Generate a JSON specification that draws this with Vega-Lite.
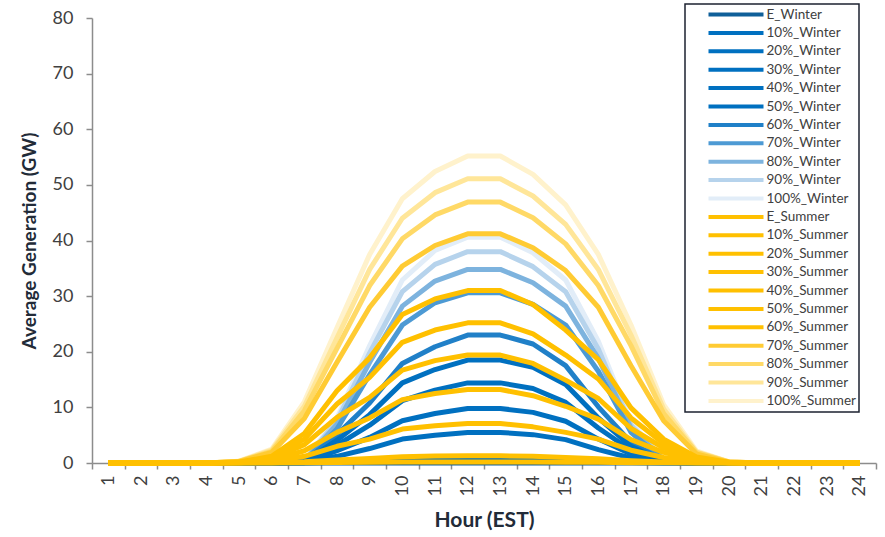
{
"$schema": "https://vega.github.io/schema/vega-lite/v6.json",
"width": 784,
"height": 445,
"autosize": {"type": "none"},
"padding": {"left": 92, "top": 18, "right": 9, "bottom": 74},
"config": {"font": "Lato", "view": {"stroke": null}, "axis": {"grid": false}, "legend": {"strokeWidth": 1.5}},
"data": {"values": [
{"series":"100%_Winter","hour":1,"value":0},{"series":"100%_Winter","hour":2,"value":0},{"series":"100%_Winter","hour":3,"value":0},{"series":"100%_Winter","hour":4,"value":0},{"series":"100%_Winter","hour":5,"value":0},{"series":"100%_Winter","hour":6,"value":0},{"series":"100%_Winter","hour":7,"value":0.41},{"series":"100%_Winter","hour":8,"value":8.1},{"series":"100%_Winter","hour":9,"value":21.1},{"series":"100%_Winter","hour":10,"value":32.9},{"series":"100%_Winter","hour":11,"value":38.2},{"series":"100%_Winter","hour":12,"value":40.6},{"series":"100%_Winter","hour":13,"value":40.6},{"series":"100%_Winter","hour":14,"value":37.8},{"series":"100%_Winter","hour":15,"value":32.9},{"series":"100%_Winter","hour":16,"value":21.9},{"series":"100%_Winter","hour":17,"value":7.3},{"series":"100%_Winter","hour":18,"value":0.61},{"series":"100%_Winter","hour":19,"value":0},{"series":"100%_Winter","hour":20,"value":0},{"series":"100%_Winter","hour":21,"value":0},{"series":"100%_Winter","hour":22,"value":0},{"series":"100%_Winter","hour":23,"value":0},{"series":"100%_Winter","hour":24,"value":0},
{"series":"90%_Winter","hour":1,"value":0},{"series":"90%_Winter","hour":2,"value":0},{"series":"90%_Winter","hour":3,"value":0},{"series":"90%_Winter","hour":4,"value":0},{"series":"90%_Winter","hour":5,"value":0},{"series":"90%_Winter","hour":6,"value":0},{"series":"90%_Winter","hour":7,"value":0.38},{"series":"90%_Winter","hour":8,"value":7.6},{"series":"90%_Winter","hour":9,"value":19.8},{"series":"90%_Winter","hour":10,"value":30.8},{"series":"90%_Winter","hour":11,"value":35.7},{"series":"90%_Winter","hour":12,"value":38.0},{"series":"90%_Winter","hour":13,"value":38.0},{"series":"90%_Winter","hour":14,"value":35.3},{"series":"90%_Winter","hour":15,"value":30.8},{"series":"90%_Winter","hour":16,"value":20.5},{"series":"90%_Winter","hour":17,"value":6.8},{"series":"90%_Winter","hour":18,"value":0.57},{"series":"90%_Winter","hour":19,"value":0},{"series":"90%_Winter","hour":20,"value":0},{"series":"90%_Winter","hour":21,"value":0},{"series":"90%_Winter","hour":22,"value":0},{"series":"90%_Winter","hour":23,"value":0},{"series":"90%_Winter","hour":24,"value":0},
{"series":"80%_Winter","hour":1,"value":0},{"series":"80%_Winter","hour":2,"value":0},{"series":"80%_Winter","hour":3,"value":0},{"series":"80%_Winter","hour":4,"value":0},{"series":"80%_Winter","hour":5,"value":0},{"series":"80%_Winter","hour":6,"value":0},{"series":"80%_Winter","hour":7,"value":0.35},{"series":"80%_Winter","hour":8,"value":7.0},{"series":"80%_Winter","hour":9,"value":18.1},{"series":"80%_Winter","hour":10,"value":28.2},{"series":"80%_Winter","hour":11,"value":32.7},{"series":"80%_Winter","hour":12,"value":34.8},{"series":"80%_Winter","hour":13,"value":34.8},{"series":"80%_Winter","hour":14,"value":32.4},{"series":"80%_Winter","hour":15,"value":28.2},{"series":"80%_Winter","hour":16,"value":18.8},{"series":"80%_Winter","hour":17,"value":6.3},{"series":"80%_Winter","hour":18,"value":0.52},{"series":"80%_Winter","hour":19,"value":0},{"series":"80%_Winter","hour":20,"value":0},{"series":"80%_Winter","hour":21,"value":0},{"series":"80%_Winter","hour":22,"value":0},{"series":"80%_Winter","hour":23,"value":0},{"series":"80%_Winter","hour":24,"value":0},
{"series":"70%_Winter","hour":1,"value":0},{"series":"70%_Winter","hour":2,"value":0},{"series":"70%_Winter","hour":3,"value":0},{"series":"70%_Winter","hour":4,"value":0},{"series":"70%_Winter","hour":5,"value":0},{"series":"70%_Winter","hour":6,"value":0},{"series":"70%_Winter","hour":7,"value":0.31},{"series":"70%_Winter","hour":8,"value":6.1},{"series":"70%_Winter","hour":9,"value":15.9},{"series":"70%_Winter","hour":10,"value":24.8},{"series":"70%_Winter","hour":11,"value":28.8},{"series":"70%_Winter","hour":12,"value":30.6},{"series":"70%_Winter","hour":13,"value":30.6},{"series":"70%_Winter","hour":14,"value":28.5},{"series":"70%_Winter","hour":15,"value":24.8},{"series":"70%_Winter","hour":16,"value":16.5},{"series":"70%_Winter","hour":17,"value":5.5},{"series":"70%_Winter","hour":18,"value":0.46},{"series":"70%_Winter","hour":19,"value":0},{"series":"70%_Winter","hour":20,"value":0},{"series":"70%_Winter","hour":21,"value":0},{"series":"70%_Winter","hour":22,"value":0},{"series":"70%_Winter","hour":23,"value":0},{"series":"70%_Winter","hour":24,"value":0},
{"series":"60%_Winter","hour":1,"value":0},{"series":"60%_Winter","hour":2,"value":0},{"series":"60%_Winter","hour":3,"value":0},{"series":"60%_Winter","hour":4,"value":0},{"series":"60%_Winter","hour":5,"value":0},{"series":"60%_Winter","hour":6,"value":0},{"series":"60%_Winter","hour":7,"value":0.23},{"series":"60%_Winter","hour":8,"value":5.1},{"series":"60%_Winter","hour":9,"value":10.8},{"series":"60%_Winter","hour":10,"value":17.9},{"series":"60%_Winter","hour":11,"value":20.9},{"series":"60%_Winter","hour":12,"value":23.0},{"series":"60%_Winter","hour":13,"value":23.0},{"series":"60%_Winter","hour":14,"value":21.4},{"series":"60%_Winter","hour":15,"value":17.5},{"series":"60%_Winter","hour":16,"value":10.1},{"series":"60%_Winter","hour":17,"value":3.7},{"series":"60%_Winter","hour":18,"value":0.35},{"series":"60%_Winter","hour":19,"value":0},{"series":"60%_Winter","hour":20,"value":0},{"series":"60%_Winter","hour":21,"value":0},{"series":"60%_Winter","hour":22,"value":0},{"series":"60%_Winter","hour":23,"value":0},{"series":"60%_Winter","hour":24,"value":0},
{"series":"50%_Winter","hour":1,"value":0},{"series":"50%_Winter","hour":2,"value":0},{"series":"50%_Winter","hour":3,"value":0},{"series":"50%_Winter","hour":4,"value":0},{"series":"50%_Winter","hour":5,"value":0},{"series":"50%_Winter","hour":6,"value":0},{"series":"50%_Winter","hour":7,"value":0.19},{"series":"50%_Winter","hour":8,"value":4.1},{"series":"50%_Winter","hour":9,"value":8.7},{"series":"50%_Winter","hour":10,"value":14.4},{"series":"50%_Winter","hour":11,"value":16.8},{"series":"50%_Winter","hour":12,"value":18.5},{"series":"50%_Winter","hour":13,"value":18.5},{"series":"50%_Winter","hour":14,"value":17.2},{"series":"50%_Winter","hour":15,"value":14.1},{"series":"50%_Winter","hour":16,"value":8.1},{"series":"50%_Winter","hour":17,"value":3.0},{"series":"50%_Winter","hour":18,"value":0.28},{"series":"50%_Winter","hour":19,"value":0},{"series":"50%_Winter","hour":20,"value":0},{"series":"50%_Winter","hour":21,"value":0},{"series":"50%_Winter","hour":22,"value":0},{"series":"50%_Winter","hour":23,"value":0},{"series":"50%_Winter","hour":24,"value":0},
{"series":"40%_Winter","hour":1,"value":0},{"series":"40%_Winter","hour":2,"value":0},{"series":"40%_Winter","hour":3,"value":0},{"series":"40%_Winter","hour":4,"value":0},{"series":"40%_Winter","hour":5,"value":0},{"series":"40%_Winter","hour":6,"value":0},{"series":"40%_Winter","hour":7,"value":0.14},{"series":"40%_Winter","hour":8,"value":3.2},{"series":"40%_Winter","hour":9,"value":6.8},{"series":"40%_Winter","hour":10,"value":11.2},{"series":"40%_Winter","hour":11,"value":13.1},{"series":"40%_Winter","hour":12,"value":14.4},{"series":"40%_Winter","hour":13,"value":14.4},{"series":"40%_Winter","hour":14,"value":13.4},{"series":"40%_Winter","hour":15,"value":10.9},{"series":"40%_Winter","hour":16,"value":6.3},{"series":"40%_Winter","hour":17,"value":2.3},{"series":"40%_Winter","hour":18,"value":0.22},{"series":"40%_Winter","hour":19,"value":0},{"series":"40%_Winter","hour":20,"value":0},{"series":"40%_Winter","hour":21,"value":0},{"series":"40%_Winter","hour":22,"value":0},{"series":"40%_Winter","hour":23,"value":0},{"series":"40%_Winter","hour":24,"value":0},
{"series":"30%_Winter","hour":1,"value":0},{"series":"30%_Winter","hour":2,"value":0},{"series":"30%_Winter","hour":3,"value":0},{"series":"30%_Winter","hour":4,"value":0},{"series":"30%_Winter","hour":5,"value":0},{"series":"30%_Winter","hour":6,"value":0},{"series":"30%_Winter","hour":7,"value":0.1},{"series":"30%_Winter","hour":8,"value":2.2},{"series":"30%_Winter","hour":9,"value":4.6},{"series":"30%_Winter","hour":10,"value":7.6},{"series":"30%_Winter","hour":11,"value":8.9},{"series":"30%_Winter","hour":12,"value":9.8},{"series":"30%_Winter","hour":13,"value":9.8},{"series":"30%_Winter","hour":14,"value":9.1},{"series":"30%_Winter","hour":15,"value":7.5},{"series":"30%_Winter","hour":16,"value":4.3},{"series":"30%_Winter","hour":17,"value":1.6},{"series":"30%_Winter","hour":18,"value":0.15},{"series":"30%_Winter","hour":19,"value":0},{"series":"30%_Winter","hour":20,"value":0},{"series":"30%_Winter","hour":21,"value":0},{"series":"30%_Winter","hour":22,"value":0},{"series":"30%_Winter","hour":23,"value":0},{"series":"30%_Winter","hour":24,"value":0},
{"series":"20%_Winter","hour":1,"value":0},{"series":"20%_Winter","hour":2,"value":0},{"series":"20%_Winter","hour":3,"value":0},{"series":"20%_Winter","hour":4,"value":0},{"series":"20%_Winter","hour":5,"value":0},{"series":"20%_Winter","hour":6,"value":0},{"series":"20%_Winter","hour":7,"value":0.06},{"series":"20%_Winter","hour":8,"value":1.2},{"series":"20%_Winter","hour":9,"value":2.6},{"series":"20%_Winter","hour":10,"value":4.3},{"series":"20%_Winter","hour":11,"value":5.0},{"series":"20%_Winter","hour":12,"value":5.5},{"series":"20%_Winter","hour":13,"value":5.5},{"series":"20%_Winter","hour":14,"value":5.1},{"series":"20%_Winter","hour":15,"value":4.2},{"series":"20%_Winter","hour":16,"value":2.4},{"series":"20%_Winter","hour":17,"value":0.9},{"series":"20%_Winter","hour":18,"value":0.08},{"series":"20%_Winter","hour":19,"value":0},{"series":"20%_Winter","hour":20,"value":0},{"series":"20%_Winter","hour":21,"value":0},{"series":"20%_Winter","hour":22,"value":0},{"series":"20%_Winter","hour":23,"value":0},{"series":"20%_Winter","hour":24,"value":0},
{"series":"10%_Winter","hour":1,"value":0},{"series":"10%_Winter","hour":2,"value":0},{"series":"10%_Winter","hour":3,"value":0},{"series":"10%_Winter","hour":4,"value":0},{"series":"10%_Winter","hour":5,"value":0},{"series":"10%_Winter","hour":6,"value":0},{"series":"10%_Winter","hour":7,"value":0.01},{"series":"10%_Winter","hour":8,"value":0.13},{"series":"10%_Winter","hour":9,"value":0.28},{"series":"10%_Winter","hour":10,"value":0.47},{"series":"10%_Winter","hour":11,"value":0.55},{"series":"10%_Winter","hour":12,"value":0.6},{"series":"10%_Winter","hour":13,"value":0.6},{"series":"10%_Winter","hour":14,"value":0.56},{"series":"10%_Winter","hour":15,"value":0.46},{"series":"10%_Winter","hour":16,"value":0.26},{"series":"10%_Winter","hour":17,"value":0.1},{"series":"10%_Winter","hour":18,"value":0.01},{"series":"10%_Winter","hour":19,"value":0},{"series":"10%_Winter","hour":20,"value":0},{"series":"10%_Winter","hour":21,"value":0},{"series":"10%_Winter","hour":22,"value":0},{"series":"10%_Winter","hour":23,"value":0},{"series":"10%_Winter","hour":24,"value":0},
{"series":"E_Winter","hour":1,"value":0},{"series":"E_Winter","hour":2,"value":0},{"series":"E_Winter","hour":3,"value":0},{"series":"E_Winter","hour":4,"value":0},{"series":"E_Winter","hour":5,"value":0},{"series":"E_Winter","hour":6,"value":0},{"series":"E_Winter","hour":7,"value":0},{"series":"E_Winter","hour":8,"value":0},{"series":"E_Winter","hour":9,"value":0},{"series":"E_Winter","hour":10,"value":0},{"series":"E_Winter","hour":11,"value":0},{"series":"E_Winter","hour":12,"value":0},{"series":"E_Winter","hour":13,"value":0},{"series":"E_Winter","hour":14,"value":0},{"series":"E_Winter","hour":15,"value":0},{"series":"E_Winter","hour":16,"value":0},{"series":"E_Winter","hour":17,"value":0},{"series":"E_Winter","hour":18,"value":0},{"series":"E_Winter","hour":19,"value":0},{"series":"E_Winter","hour":20,"value":0},{"series":"E_Winter","hour":21,"value":0},{"series":"E_Winter","hour":22,"value":0},{"series":"E_Winter","hour":23,"value":0},{"series":"E_Winter","hour":24,"value":0},
{"series":"100%_Summer","hour":1,"value":0},{"series":"100%_Summer","hour":2,"value":0},{"series":"100%_Summer","hour":3,"value":0},{"series":"100%_Summer","hour":4,"value":0},{"series":"100%_Summer","hour":5,"value":0.33},{"series":"100%_Summer","hour":6,"value":2.5},{"series":"100%_Summer","hour":7,"value":11.0},{"series":"100%_Summer","hour":8,"value":24.3},{"series":"100%_Summer","hour":9,"value":37.5},{"series":"100%_Summer","hour":10,"value":47.5},{"series":"100%_Summer","hour":11,"value":52.4},{"series":"100%_Summer","hour":12,"value":55.2},{"series":"100%_Summer","hour":13,"value":55.2},{"series":"100%_Summer","hour":14,"value":51.9},{"series":"100%_Summer","hour":15,"value":46.4},{"series":"100%_Summer","hour":16,"value":37.5},{"series":"100%_Summer","hour":17,"value":24.8},{"series":"100%_Summer","hour":18,"value":10.5},{"series":"100%_Summer","hour":19,"value":2.2},{"series":"100%_Summer","hour":20,"value":0.22},{"series":"100%_Summer","hour":21,"value":0},{"series":"100%_Summer","hour":22,"value":0},{"series":"100%_Summer","hour":23,"value":0},{"series":"100%_Summer","hour":24,"value":0},
{"series":"90%_Summer","hour":1,"value":0},{"series":"90%_Summer","hour":2,"value":0},{"series":"90%_Summer","hour":3,"value":0},{"series":"90%_Summer","hour":4,"value":0},{"series":"90%_Summer","hour":5,"value":0.31},{"series":"90%_Summer","hour":6,"value":2.3},{"series":"90%_Summer","hour":7,"value":10.2},{"series":"90%_Summer","hour":8,"value":22.5},{"series":"90%_Summer","hour":9,"value":34.8},{"series":"90%_Summer","hour":10,"value":44.0},{"series":"90%_Summer","hour":11,"value":48.6},{"series":"90%_Summer","hour":12,"value":51.1},{"series":"90%_Summer","hour":13,"value":51.1},{"series":"90%_Summer","hour":14,"value":48.0},{"series":"90%_Summer","hour":15,"value":42.9},{"series":"90%_Summer","hour":16,"value":34.8},{"series":"90%_Summer","hour":17,"value":23.0},{"series":"90%_Summer","hour":18,"value":9.7},{"series":"90%_Summer","hour":19,"value":2.0},{"series":"90%_Summer","hour":20,"value":0.2},{"series":"90%_Summer","hour":21,"value":0},{"series":"90%_Summer","hour":22,"value":0},{"series":"90%_Summer","hour":23,"value":0},{"series":"90%_Summer","hour":24,"value":0},
{"series":"80%_Summer","hour":1,"value":0},{"series":"80%_Summer","hour":2,"value":0},{"series":"80%_Summer","hour":3,"value":0},{"series":"80%_Summer","hour":4,"value":0},{"series":"80%_Summer","hour":5,"value":0.28},{"series":"80%_Summer","hour":6,"value":2.1},{"series":"80%_Summer","hour":7,"value":9.4},{"series":"80%_Summer","hour":8,"value":20.6},{"series":"80%_Summer","hour":9,"value":31.9},{"series":"80%_Summer","hour":10,"value":40.3},{"series":"80%_Summer","hour":11,"value":44.6},{"series":"80%_Summer","hour":12,"value":46.9},{"series":"80%_Summer","hour":13,"value":46.9},{"series":"80%_Summer","hour":14,"value":44.1},{"series":"80%_Summer","hour":15,"value":39.4},{"series":"80%_Summer","hour":16,"value":31.9},{"series":"80%_Summer","hour":17,"value":21.1},{"series":"80%_Summer","hour":18,"value":8.9},{"series":"80%_Summer","hour":19,"value":1.9},{"series":"80%_Summer","hour":20,"value":0.19},{"series":"80%_Summer","hour":21,"value":0},{"series":"80%_Summer","hour":22,"value":0},{"series":"80%_Summer","hour":23,"value":0},{"series":"80%_Summer","hour":24,"value":0},
{"series":"70%_Summer","hour":1,"value":0},{"series":"70%_Summer","hour":2,"value":0},{"series":"70%_Summer","hour":3,"value":0},{"series":"70%_Summer","hour":4,"value":0},{"series":"70%_Summer","hour":5,"value":0.25},{"series":"70%_Summer","hour":6,"value":1.9},{"series":"70%_Summer","hour":7,"value":8.0},{"series":"70%_Summer","hour":8,"value":18.1},{"series":"70%_Summer","hour":9,"value":28.0},{"series":"70%_Summer","hour":10,"value":35.4},{"series":"70%_Summer","hour":11,"value":39.1},{"series":"70%_Summer","hour":12,"value":41.2},{"series":"70%_Summer","hour":13,"value":41.2},{"series":"70%_Summer","hour":14,"value":38.7},{"series":"70%_Summer","hour":15,"value":34.6},{"series":"70%_Summer","hour":16,"value":28.0},{"series":"70%_Summer","hour":17,"value":17.5},{"series":"70%_Summer","hour":18,"value":7.6},{"series":"70%_Summer","hour":19,"value":1.65},{"series":"70%_Summer","hour":20,"value":0.16},{"series":"70%_Summer","hour":21,"value":0},{"series":"70%_Summer","hour":22,"value":0},{"series":"70%_Summer","hour":23,"value":0},{"series":"70%_Summer","hour":24,"value":0},
{"series":"60%_Summer","hour":1,"value":0},{"series":"60%_Summer","hour":2,"value":0},{"series":"60%_Summer","hour":3,"value":0},{"series":"60%_Summer","hour":4,"value":0},{"series":"60%_Summer","hour":5,"value":0.16},{"series":"60%_Summer","hour":6,"value":1.2},{"series":"60%_Summer","hour":7,"value":5.3},{"series":"60%_Summer","hour":8,"value":13.0},{"series":"60%_Summer","hour":9,"value":18.9},{"series":"60%_Summer","hour":10,"value":26.7},{"series":"60%_Summer","hour":11,"value":29.5},{"series":"60%_Summer","hour":12,"value":31.0},{"series":"60%_Summer","hour":13,"value":31.0},{"series":"60%_Summer","hour":14,"value":28.5},{"series":"60%_Summer","hour":15,"value":23.9},{"series":"60%_Summer","hour":16,"value":18.6},{"series":"60%_Summer","hour":17,"value":9.9},{"series":"60%_Summer","hour":18,"value":4.3},{"series":"60%_Summer","hour":19,"value":1.1},{"series":"60%_Summer","hour":20,"value":0.12},{"series":"60%_Summer","hour":21,"value":0},{"series":"60%_Summer","hour":22,"value":0},{"series":"60%_Summer","hour":23,"value":0},{"series":"60%_Summer","hour":24,"value":0},
{"series":"50%_Summer","hour":1,"value":0},{"series":"50%_Summer","hour":2,"value":0},{"series":"50%_Summer","hour":3,"value":0},{"series":"50%_Summer","hour":4,"value":0},{"series":"50%_Summer","hour":5,"value":0.13},{"series":"50%_Summer","hour":6,"value":1.0},{"series":"50%_Summer","hour":7,"value":4.3},{"series":"50%_Summer","hour":8,"value":10.6},{"series":"50%_Summer","hour":9,"value":15.4},{"series":"50%_Summer","hour":10,"value":21.7},{"series":"50%_Summer","hour":11,"value":23.9},{"series":"50%_Summer","hour":12,"value":25.2},{"series":"50%_Summer","hour":13,"value":25.2},{"series":"50%_Summer","hour":14,"value":23.2},{"series":"50%_Summer","hour":15,"value":19.4},{"series":"50%_Summer","hour":16,"value":15.1},{"series":"50%_Summer","hour":17,"value":8.1},{"series":"50%_Summer","hour":18,"value":3.5},{"series":"50%_Summer","hour":19,"value":0.88},{"series":"50%_Summer","hour":20,"value":0.1},{"series":"50%_Summer","hour":21,"value":0},{"series":"50%_Summer","hour":22,"value":0},{"series":"50%_Summer","hour":23,"value":0},{"series":"50%_Summer","hour":24,"value":0},
{"series":"40%_Summer","hour":1,"value":0},{"series":"40%_Summer","hour":2,"value":0},{"series":"40%_Summer","hour":3,"value":0},{"series":"40%_Summer","hour":4,"value":0},{"series":"40%_Summer","hour":5,"value":0.1},{"series":"40%_Summer","hour":6,"value":0.78},{"series":"40%_Summer","hour":7,"value":3.3},{"series":"40%_Summer","hour":8,"value":8.2},{"series":"40%_Summer","hour":9,"value":11.8},{"series":"40%_Summer","hour":10,"value":16.7},{"series":"40%_Summer","hour":11,"value":18.4},{"series":"40%_Summer","hour":12,"value":19.4},{"series":"40%_Summer","hour":13,"value":19.4},{"series":"40%_Summer","hour":14,"value":17.9},{"series":"40%_Summer","hour":15,"value":14.9},{"series":"40%_Summer","hour":16,"value":11.6},{"series":"40%_Summer","hour":17,"value":6.2},{"series":"40%_Summer","hour":18,"value":2.7},{"series":"40%_Summer","hour":19,"value":0.68},{"series":"40%_Summer","hour":20,"value":0.08},{"series":"40%_Summer","hour":21,"value":0},{"series":"40%_Summer","hour":22,"value":0},{"series":"40%_Summer","hour":23,"value":0},{"series":"40%_Summer","hour":24,"value":0},
{"series":"30%_Summer","hour":1,"value":0},{"series":"30%_Summer","hour":2,"value":0},{"series":"30%_Summer","hour":3,"value":0},{"series":"30%_Summer","hour":4,"value":0},{"series":"30%_Summer","hour":5,"value":0.07},{"series":"30%_Summer","hour":6,"value":0.53},{"series":"30%_Summer","hour":7,"value":2.2},{"series":"30%_Summer","hour":8,"value":5.5},{"series":"30%_Summer","hour":9,"value":8.1},{"series":"30%_Summer","hour":10,"value":11.4},{"series":"30%_Summer","hour":11,"value":12.5},{"series":"30%_Summer","hour":12,"value":13.2},{"series":"30%_Summer","hour":13,"value":13.2},{"series":"30%_Summer","hour":14,"value":12.1},{"series":"30%_Summer","hour":15,"value":10.2},{"series":"30%_Summer","hour":16,"value":7.9},{"series":"30%_Summer","hour":17,"value":4.2},{"series":"30%_Summer","hour":18,"value":1.9},{"series":"30%_Summer","hour":19,"value":0.46},{"series":"30%_Summer","hour":20,"value":0.05},{"series":"30%_Summer","hour":21,"value":0},{"series":"30%_Summer","hour":22,"value":0},{"series":"30%_Summer","hour":23,"value":0},{"series":"30%_Summer","hour":24,"value":0},
{"series":"20%_Summer","hour":1,"value":0},{"series":"20%_Summer","hour":2,"value":0},{"series":"20%_Summer","hour":3,"value":0},{"series":"20%_Summer","hour":4,"value":0},{"series":"20%_Summer","hour":5,"value":0.04},{"series":"20%_Summer","hour":6,"value":0.28},{"series":"20%_Summer","hour":7,"value":1.2},{"series":"20%_Summer","hour":8,"value":3.0},{"series":"20%_Summer","hour":9,"value":4.3},{"series":"20%_Summer","hour":10,"value":6.1},{"series":"20%_Summer","hour":11,"value":6.7},{"series":"20%_Summer","hour":12,"value":7.1},{"series":"20%_Summer","hour":13,"value":7.1},{"series":"20%_Summer","hour":14,"value":6.5},{"series":"20%_Summer","hour":15,"value":5.5},{"series":"20%_Summer","hour":16,"value":4.3},{"series":"20%_Summer","hour":17,"value":2.3},{"series":"20%_Summer","hour":18,"value":1.0},{"series":"20%_Summer","hour":19,"value":0.25},{"series":"20%_Summer","hour":20,"value":0.03},{"series":"20%_Summer","hour":21,"value":0},{"series":"20%_Summer","hour":22,"value":0},{"series":"20%_Summer","hour":23,"value":0},{"series":"20%_Summer","hour":24,"value":0},
{"series":"10%_Summer","hour":1,"value":0},{"series":"10%_Summer","hour":2,"value":0},{"series":"10%_Summer","hour":3,"value":0},{"series":"10%_Summer","hour":4,"value":0},{"series":"10%_Summer","hour":5,"value":0.01},{"series":"10%_Summer","hour":6,"value":0.05},{"series":"10%_Summer","hour":7,"value":0.22},{"series":"10%_Summer","hour":8,"value":0.55},{"series":"10%_Summer","hour":9,"value":0.79},{"series":"10%_Summer","hour":10,"value":1.12},{"series":"10%_Summer","hour":11,"value":1.24},{"series":"10%_Summer","hour":12,"value":1.3},{"series":"10%_Summer","hour":13,"value":1.3},{"series":"10%_Summer","hour":14,"value":1.2},{"series":"10%_Summer","hour":15,"value":1.0},{"series":"10%_Summer","hour":16,"value":0.78},{"series":"10%_Summer","hour":17,"value":0.42},{"series":"10%_Summer","hour":18,"value":0.18},{"series":"10%_Summer","hour":19,"value":0.05},{"series":"10%_Summer","hour":20,"value":0.01},{"series":"10%_Summer","hour":21,"value":0},{"series":"10%_Summer","hour":22,"value":0},{"series":"10%_Summer","hour":23,"value":0},{"series":"10%_Summer","hour":24,"value":0},
{"series":"E_Summer","hour":1,"value":0},{"series":"E_Summer","hour":2,"value":0},{"series":"E_Summer","hour":3,"value":0},{"series":"E_Summer","hour":4,"value":0},{"series":"E_Summer","hour":5,"value":0},{"series":"E_Summer","hour":6,"value":0},{"series":"E_Summer","hour":7,"value":0.03},{"series":"E_Summer","hour":8,"value":0.08},{"series":"E_Summer","hour":9,"value":0.12},{"series":"E_Summer","hour":10,"value":0.17},{"series":"E_Summer","hour":11,"value":0.19},{"series":"E_Summer","hour":12,"value":0.2},{"series":"E_Summer","hour":13,"value":0.2},{"series":"E_Summer","hour":14,"value":0.18},{"series":"E_Summer","hour":15,"value":0.15},{"series":"E_Summer","hour":16,"value":0.12},{"series":"E_Summer","hour":17,"value":0.06},{"series":"E_Summer","hour":18,"value":0.03},{"series":"E_Summer","hour":19,"value":0.01},{"series":"E_Summer","hour":20,"value":0},{"series":"E_Summer","hour":21,"value":0},{"series":"E_Summer","hour":22,"value":0},{"series":"E_Summer","hour":23,"value":0},{"series":"E_Summer","hour":24,"value":0}
]},
"mark": {"type": "line", "strokeWidth": 5, "strokeJoin": "round"},
"encoding": {
  "x": {"field": "hour", "type": "ordinal", "bandPosition": 0.5,
    "scale": {"type": "band", "paddingInner": 0, "paddingOuter": 0},
    "axis": {"title": "Hour (EST)", "labelAngle": 270, "tickBand": "extent", "labelFontSize": 18, "labelColor": "#404040", "labelPadding": 6, "tickSize": 6, "tickColor": "#8c8c8c", "domainColor": "#8c8c8c", "domainWidth": 1.5, "tickWidth": 1.5, "titleFontSize": 21, "titleFontWeight": "bold", "titleColor": "#222b38", "titlePadding": 14}},
  "y": {"field": "value", "type": "quantitative", "scale": {"domain": [0, 80], "nice": false},
    "axis": {"title": "Average Generation (GW)", "values": [0, 10, 20, 30, 40, 50, 60, 70, 80], "labelFontSize": 18, "labelColor": "#404040", "labelPadding": 13, "tickSize": 6, "tickColor": "#8c8c8c", "domainColor": "#8c8c8c", "domainWidth": 1.5, "tickWidth": 1.5, "titleFontSize": 19, "titleFontWeight": "bold", "titleColor": "#222b38", "titlePadding": 13}},
  "color": {"field": "series", "type": "nominal",
    "scale": {"domain": ["E_Winter","10%_Winter","20%_Winter","30%_Winter","40%_Winter","50%_Winter","60%_Winter","70%_Winter","80%_Winter","90%_Winter","100%_Winter","E_Summer","10%_Summer","20%_Summer","30%_Summer","40%_Summer","50%_Summer","60%_Summer","70%_Summer","80%_Summer","90%_Summer","100%_Summer"],
      "range": ["#0f5f99","#0070c0","#0070c0","#0070c0","#0070c0","#0070c0","#2080c8","#4d9ad4","#7db3de","#b6d3ec","#e2edf8","#ffc000","#ffc000","#ffc000","#ffc000","#ffc000","#ffc000","#ffc000","#ffcb33","#ffd966","#ffe699","#fff2cc"]},
    "legend": {"orient": "none", "legendX": 593, "legendY": -14, "title": null, "direction": "vertical", "columns": 1,
      "symbolType": "M-5,0H5", "symbolSize": 121, "symbolStrokeWidth": 4, "symbolOffset": 40.5,
      "labelOffset": 23, "labelFontSize": 13.5, "labelColor": "#404040", "labelFont": "Lato",
      "labelExpr": "datum.label + '          '",
      "rowPadding": 1.4, "padding": 3, "strokeColor": "#1c2230"}}
}
}
